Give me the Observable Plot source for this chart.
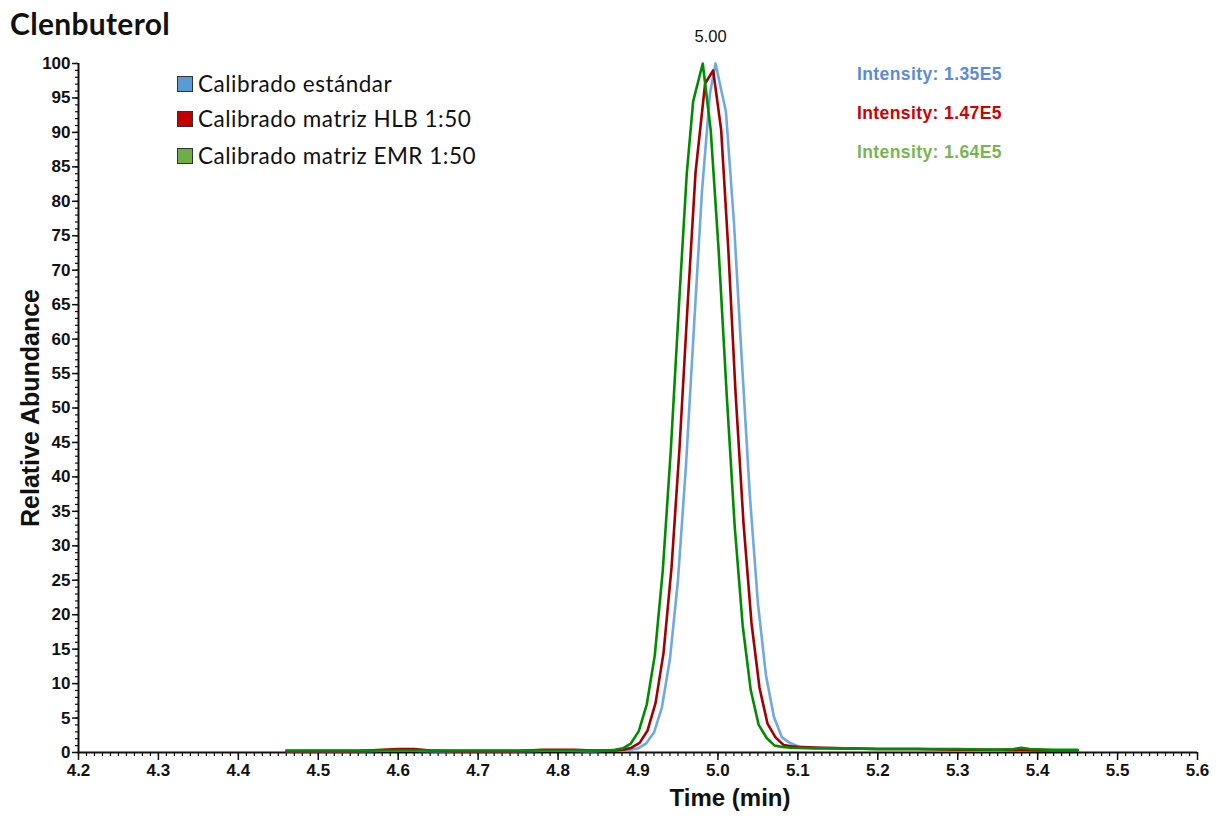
<!DOCTYPE html>
<html>
<head>
<meta charset="utf-8">
<script src="https://cdn.jsdelivr.net/npm/d3@7"></script>
<script src="https://cdn.jsdelivr.net/npm/@observablehq/plot@0.6"></script>
<style>
  html, body { margin: 0; padding: 0; background: #fff; }
  #wrap { position: relative; width: 1220px; height: 821px; }
  #wrap svg { position: absolute; left: 0; top: 0; }
  .ov { position: absolute; white-space: nowrap; line-height: 1; }
  #title { left: 10px; top: 5px; font: bold 30px Lato, "Noto Sans", sans-serif; letter-spacing: 0.3px; color: #111; }
  .leg { left: 177px; font: 22.5px Lato, "Noto Sans", sans-serif; letter-spacing: 0.5px; color: #111; display: flex; align-items: center; }
  .sw { width: 14px; height: 14px; border: 1.5px solid #333; margin-right: 5px; box-sizing: content-box; }
  .int { left: 857px; font: bold 17.5px "Liberation Sans", Arial, sans-serif; letter-spacing: 0.4px; }
</style>
</head>
<body>
<div id="wrap"></div>
<script>
// ---------- data ----------
const seriesNames = ["Calibrado estándar", "Calibrado matriz HLB 1:50", "Calibrado matriz EMR 1:50"];
const lineColors = ["#6fa9e0", "#a00000", "#008c00"];
const swatchColors = ["#5b9bd5", "#c00000", "#70ad47"];
const intensityLabels = ["Intensity: 1.35E5", "Intensity: 1.47E5", "Intensity: 1.64E5"];
const intensityColors = ["#5b8bd8", "#cc0000", "#78b552"];

const blueTimes = [4.46,4.50,4.55,4.60,4.65,4.70,4.75,4.80,4.84,4.87,
  4.88,4.89,4.90,4.91,4.92,4.93,4.94,4.95,4.96,4.97,4.98,4.99,4.997,5.01,5.02,5.03,5.04,5.05,5.06,5.07,5.08,5.09,5.10,5.11,5.12,
  5.15,5.20,5.25,5.30,5.35,5.40,5.45];
const blueValues = [0.2,0.2,0.2,0.3,0.2,0.2,0.2,0.3,0.2,0.3,
  0.3,0.4,0.6,1.3,2.9,6.6,13.6,25.0,41.6,61.7,81.4,95.6,100,93.0,77.0,56.7,37.2,21.7,11.3,5.2,2.2,1.4,0.9,0.8,0.7,
  0.6,0.5,0.5,0.4,0.4,0.3,0.3];

const redTimes = [4.46,4.50,4.55,4.58,4.60,4.62,4.64,4.67,4.70,4.75,4.78,4.80,4.82,4.845,4.862,
  4.872,4.882,4.892,4.902,4.912,4.922,4.932,4.942,4.952,4.962,4.972,4.984,4.994,5.004,5.013,5.022,5.032,5.042,5.052,5.062,5.072,5.082,5.092,5.102,
  5.13,5.16,5.20,5.25,5.30,5.35,5.40,5.45];
const redValues = [0.2,0.2,0.2,0.4,0.5,0.5,0.3,0.2,0.2,0.2,0.4,0.4,0.4,0.3,0.3,
  0.3,0.4,0.7,1.4,3.2,7.2,14.5,26.9,44.3,64.8,84.2,97.1,99,90.4,73.0,52.3,33.3,18.8,9.4,4.2,2.2,1.1,0.9,0.8,
  0.7,0.6,0.5,0.5,0.4,0.4,0.3,0.3];

const greenTimes = [4.46,4.50,4.55,4.60,4.65,4.70,4.75,4.80,4.83,4.851,
  4.861,4.871,4.881,4.891,4.901,4.911,4.921,4.931,4.941,4.951,4.961,4.969,4.981,4.991,5.001,5.011,5.021,5.031,5.041,5.051,5.061,5.071,5.081,5.091,
  5.12,5.16,5.20,5.25,5.30,5.35,5.37,5.38,5.39,5.42,5.45];
const greenValues = [0.3,0.3,0.3,0.3,0.3,0.3,0.3,0.3,0.3,0.3,
  0.3,0.4,0.6,1.3,3.1,7.0,14.1,26.4,43.8,64.4,84.0,94.5,100,90.3,72.7,51.9,32.8,18.4,9.1,4.0,2.1,1.0,0.8,0.7,
  0.6,0.6,0.5,0.5,0.5,0.4,0.5,0.7,0.5,0.4,0.4];

const xTickValues = [4.2,4.3,4.4,4.5,4.6,4.7,4.8,4.9,5.0,5.1,5.2,5.3,5.4,5.5,5.6];
const yTickValues = [0,5,10,15,20,25,30,35,40,45,50,55,60,65,70,75,80,85,90,95,100];
const peakLabel = "5.00";

// ---------- build ----------
const allTimes = [blueTimes, redTimes, greenTimes];
const allValues = [blueValues, redValues, greenValues];
const data = [];
allTimes.forEach((ts, i) => ts.forEach((t, j) => data.push({series: seriesNames[i], t, v: allValues[i][j], color: lineColors[i]})));

const xMinor = d3.range(420, 561).map(d => d / 100);
const yMinor = d3.range(0, 101);

const blueMaxIdx = d3.maxIndex(blueValues);
const peak = {t: blueTimes[blueMaxIdx], v: blueValues[blueMaxIdx], label: peakLabel};

const tickFont = {fontSize: 17, fontWeight: "bold", fill: "#111"};

const chart = Plot.plot({
  width: 1220,
  height: 821,
  marginLeft: 78,
  marginRight: 23,
  marginTop: 63,
  marginBottom: 69,
  style: {fontFamily: "'Liberation Sans', Arial, sans-serif", background: "transparent", color: "#111"},
  x: {domain: [4.2, 5.6]},
  y: {domain: [0, 100]},
  marks: [
    Plot.axisY({ticks: yMinor, tickSize: 3, tickFormat: () => "", label: null, strokeWidth: 1.2}),
    Plot.axisY({ticks: yTickValues, tickSize: 6, tickPadding: 2, tickFormat: d => String(d), label: null, strokeWidth: 1.5, ...tickFont, letterSpacing: -0.8}),
    Plot.axisX({ticks: xMinor, tickSize: 4, tickFormat: () => "", label: null, strokeWidth: 1.2}),
    Plot.axisX({ticks: xTickValues, tickSize: 8, tickPadding: 3, tickFormat: d3.format(".1f"), label: null, strokeWidth: 1.5, ...tickFont, letterSpacing: -0.5}),
    Plot.ruleY([0], {stroke: "#111", strokeWidth: 2}),
    Plot.ruleX([4.2], {stroke: "#111", strokeWidth: 2}),
    Plot.line(data, {x: "t", y: "v", z: "series", stroke: "color", strokeWidth: 2.6, strokeLinejoin: "round"}),
    Plot.text([peak], {x: "t", y: "v", text: "label", dy: -27, dx: -5, fontSize: 16.5, fontWeight: 500, fill: "#111"}),
    Plot.text(["Relative Abundance"], {frameAnchor: "left", textAnchor: "middle", dx: -48, rotate: -90, fontSize: 25, fontWeight: "bold", fill: "#111"}),
    Plot.text(["Time (min)"], {frameAnchor: "bottom", dx: 92, dy: 53, fontSize: 24, fontWeight: "bold", fill: "#111"})
  ]
});

const wrap = document.getElementById("wrap");
wrap.appendChild(chart);

const title = document.createElement("div");
title.className = "ov"; title.id = "title"; title.textContent = "Clenbuterol";
wrap.appendChild(title);

const legTops = [70, 105, 142];
seriesNames.forEach((n, i) => {
  const d = document.createElement("div");
  d.className = "ov leg"; d.style.top = legTops[i] + "px";
  const sw = document.createElement("span"); sw.className = "sw"; sw.style.background = swatchColors[i];
  const tx = document.createElement("span"); tx.textContent = n;
  d.appendChild(sw); d.appendChild(tx);
  wrap.appendChild(d);
});

const intTops = [64, 103, 142];
intensityLabels.forEach((s, i) => {
  const d = document.createElement("div");
  d.className = "ov int"; d.style.top = intTops[i] + "px"; d.style.color = intensityColors[i];
  d.textContent = s;
  wrap.appendChild(d);
});
</script>
</body>
</html>
